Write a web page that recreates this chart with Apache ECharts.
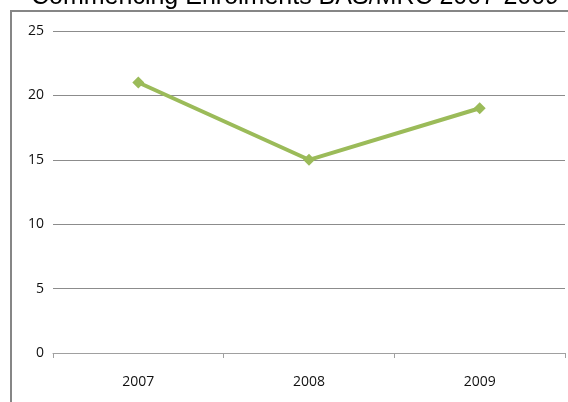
<!DOCTYPE html>
<html><head><meta charset="utf-8">
<script src="https://cdn.jsdelivr.net/npm/echarts@6/dist/echarts.min.js"></script>
<style>html,body{margin:0;padding:0;background:#fff;overflow:hidden}
#wrap{position:relative;width:568px;height:402px;overflow:hidden}
#c{width:568px;height:402px}
#frame{position:absolute;left:10px;top:10px;width:600px;height:450px;border:2px solid #868686;pointer-events:none}</style>
</head><body><div id="wrap"><div id="c"></div><div id="frame"></div></div>
<script>
var titleText = "Commencing Enrolments BAS/MRC 2007-2009";
var categories = ["2007", "2008", "2009"];
var enrolments = [21, 15, 19];
var yTicks = [0, 5, 10, 15, 20, 25];

var chart = echarts.init(document.getElementById('c'));
chart.setOption({
  animation: false,
  title: {
    text: titleText, left: 31, top: -15, padding: 0,
    textStyle: {fontFamily: 'Liberation Sans, Arial', fontSize: 25, fontWeight: 'normal', color: '#000'}
  },
  grid: {left: 53, right: 3, top: 31, bottom: 49, containLabel: false},
  xAxis: {
    type: 'category', data: categories, boundaryGap: true,
    axisLine: {lineStyle: {color: '#a0a0a0', width: 1}},
    axisTick: {show: true, length: 5, lineStyle: {color: '#a0a0a0'}},
    axisLabel: {color: '#111', fontFamily: 'Open Sans, Noto Sans', fontSize: 14, margin: 22}
  },
  yAxis: {
    type: 'value', min: yTicks[0], max: yTicks[yTicks.length - 1], interval: 5,
    axisLine: {show: false}, axisTick: {show: false},
    splitLine: {lineStyle: {color: '#8c8c8c', width: 1}},
    axisLabel: {color: '#111', fontFamily: 'Open Sans, Noto Sans', fontSize: 14, margin: 9}
  },
  series: [{
    type: 'line', data: enrolments,
    symbol: 'diamond', symbolSize: 12,
    lineStyle: {color: '#9bbb59', width: 4},
    itemStyle: {color: '#9bbb59'}
  }]
});
</script></body></html>
